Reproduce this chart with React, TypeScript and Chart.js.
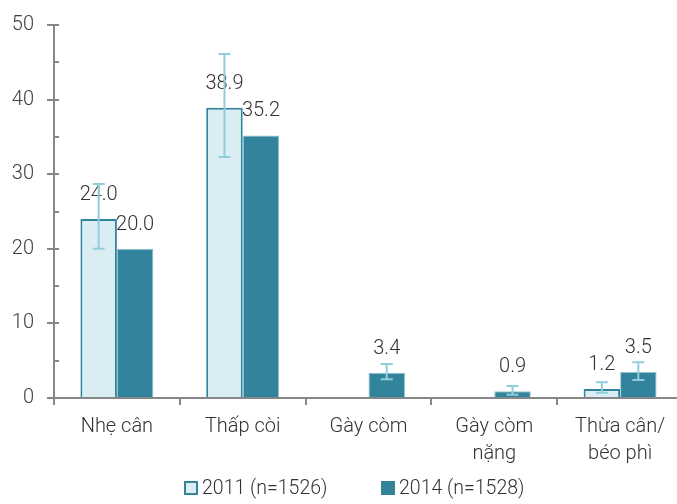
import React, { useEffect, useRef } from "react";
import { Chart, registerables } from "chart.js";

Chart.register(...registerables);

const categories: string[][] = [["Nhẹ cân"], ["Thấp còi"], ["Gày còm"], ["Gày còm", "nặng"], ["Thừa cân/", "béo phì"]];
const series2011Label = "2011 (n=1526)";
const series2014Label = "2014 (n=1528)";
const values2011: (number | null)[] = [24.0, 38.9, null, null, 1.2];
const values2014: (number | null)[] = [20.0, 35.2, 3.4, 0.9, 3.5];
const errLow2011: (number | null)[] = [20.0, 32.3, null, null, 0.7];
const errHigh2011: (number | null)[] = [28.7, 46.1, null, null, 2.1];
const errLow2014: (number | null)[] = [null, null, 2.5, 0.45, 2.4];
const errHigh2014: (number | null)[] = [null, null, 4.55, 1.6, 4.8];
const yMin = 0;
const yMax = 50;
const yMajorStep = 10;
const yMinorStep = 5;

const FONT = "Roboto, 'Open Sans', sans-serif";
const TEXT = "#404040";
const AXIS = "#878787";
const LIGHT = "#daedf3";
const TEAL = "#31849b";
const ERR = "#92cddc";

const overlayPlugin = {
  id: "overlay",
  afterDatasetsDraw(chart: any) {
    const ctx = chart.ctx;
    const yScale = chart.scales.y;
    const lows = [errLow2011, errLow2014];
    const highs = [errHigh2011, errHigh2014];
    ctx.save();
    ctx.font = `300 20px ${FONT}`;
    ctx.fillStyle = "#333333";
    ctx.textAlign = "center";
    ctx.textBaseline = "middle";
    chart.data.datasets.forEach((ds: any, di: number) => {
      const meta = chart.getDatasetMeta(di);
      meta.data.forEach((el: any, i: number) => {
        const v = ds.data[i];
        if (v === null || v === undefined) return;
        ctx.fillText(v.toFixed(1), el.x, el.y - 24);
      });
    });
    ctx.strokeStyle = ERR;
    ctx.lineWidth = 2;
    chart.data.datasets.forEach((ds: any, di: number) => {
      const meta = chart.getDatasetMeta(di);
      meta.data.forEach((el: any, i: number) => {
        const lo = lows[di][i];
        const hi = highs[di][i];
        if (lo === null || hi === null) return;
        const y1 = yScale.getPixelForValue(lo);
        const y2 = yScale.getPixelForValue(hi);
        const x = el.x;
        ctx.beginPath();
        ctx.moveTo(x, y1);
        ctx.lineTo(x, y2);
        ctx.moveTo(x - 6, y1);
        ctx.lineTo(x + 6, y1);
        ctx.moveTo(x - 6, y2);
        ctx.lineTo(x + 6, y2);
        ctx.stroke();
      });
    });
    ctx.restore();
  },
  afterDraw(chart: any) {
    const ctx = chart.ctx;
    const yScale = chart.scales.y;
    const left = chart.chartArea.left;
    ctx.save();
    ctx.strokeStyle = AXIS;
    ctx.lineWidth = 2;
    for (let v = yMin; v <= yMax; v += yMinorStep) {
      const y = Math.round(yScale.getPixelForValue(v));
      ctx.beginPath();
      ctx.moveTo(left, y);
      ctx.lineTo(left + 5, y);
      ctx.stroke();
    }
    ctx.restore();
  },
};

export default function App() {
  const canvasRef = useRef<HTMLCanvasElement | null>(null);

  useEffect(() => {
    if (!canvasRef.current) return;
    const chart = new Chart(canvasRef.current, {
      type: "bar",
      data: {
        labels: categories,
        datasets: [
          {
            label: series2011Label,
            data: values2011,
            backgroundColor: LIGHT,
            borderColor: TEAL,
            borderWidth: 2,
          },
          {
            label: series2014Label,
            data: values2014,
            backgroundColor: TEAL,
            borderColor: "#8fc3d1",
            borderWidth: 1,
          },
        ],
      },
      options: {
        animation: false,
        responsive: true,
        maintainAspectRatio: false,
        layout: { padding: { top: 25, right: 7, left: 0, bottom: 0 } },
        datasets: { bar: { categoryPercentage: 0.58, barPercentage: 1.0 } },
        plugins: {
          legend: { display: false },
          tooltip: { enabled: false },
        },
        scales: {
          x: {
            offset: true,
            afterFit: (scale: any) => {
              scale.height = 106;
            },
            grid: {
              offset: true,
              drawOnChartArea: false,
              drawTicks: true,
              tickLength: 7,
              color: AXIS,
              lineWidth: 2,
            },
            border: { display: true, color: AXIS, width: 2 },
            ticks: {
              color: "#333333",
              font: { family: FONT, size: 20, weight: "300", lineHeight: 1.35 },
              padding: 8,
              maxRotation: 0,
              autoSkip: false,
            },
          },
          y: {
            min: yMin,
            max: yMax,
            afterFit: (scale: any) => {
              scale.width = 54;
            },
            grid: {
              drawOnChartArea: false,
              drawTicks: true,
              tickLength: 7,
              lineWidth: 2,
              color: (c: any) => (c.tick && c.tick.value % yMajorStep === 0 ? AXIS : "rgba(0,0,0,0)"),
            },
            border: { display: true, color: AXIS, width: 2 },
            ticks: {
              stepSize: yMinorStep,
              autoSkip: false,
              color: TEXT,
              padding: 13,
              font: { family: FONT, size: 20, weight: "300" },
              callback: (v: any) => (Number(v) % yMajorStep === 0 ? String(v) : ""),
            },
          },
        },
      },
      plugins: [overlayPlugin],
    } as any);
    return () => chart.destroy();
  }, []);

  const textStyle: React.CSSProperties = {
    fontFamily: FONT,
    fontWeight: 300,
    fontSize: 19.5,
    color: "#333333",
    lineHeight: "20px",
    whiteSpace: "nowrap",
  };

  return (
    <div style={{ position: "fixed", left: 0, top: 0, width: 690, height: 504, background: "#ffffff" }}>
      <canvas ref={canvasRef} />
      <div style={{ position: "absolute", left: 184, top: 478, display: "flex", alignItems: "center" }}>
        <span style={{ width: 14, height: 14, boxSizing: "border-box", border: `2px solid ${TEAL}`, background: LIGHT, marginRight: 4 }} />
        <span style={textStyle}>{series2011Label}</span>
      </div>
      <div style={{ position: "absolute", left: 381, top: 478, display: "flex", alignItems: "center" }}>
        <span style={{ width: 14, height: 14, boxSizing: "border-box", background: TEAL, marginRight: 4 }} />
        <span style={textStyle}>{series2014Label}</span>
      </div>
    </div>
  );
}
